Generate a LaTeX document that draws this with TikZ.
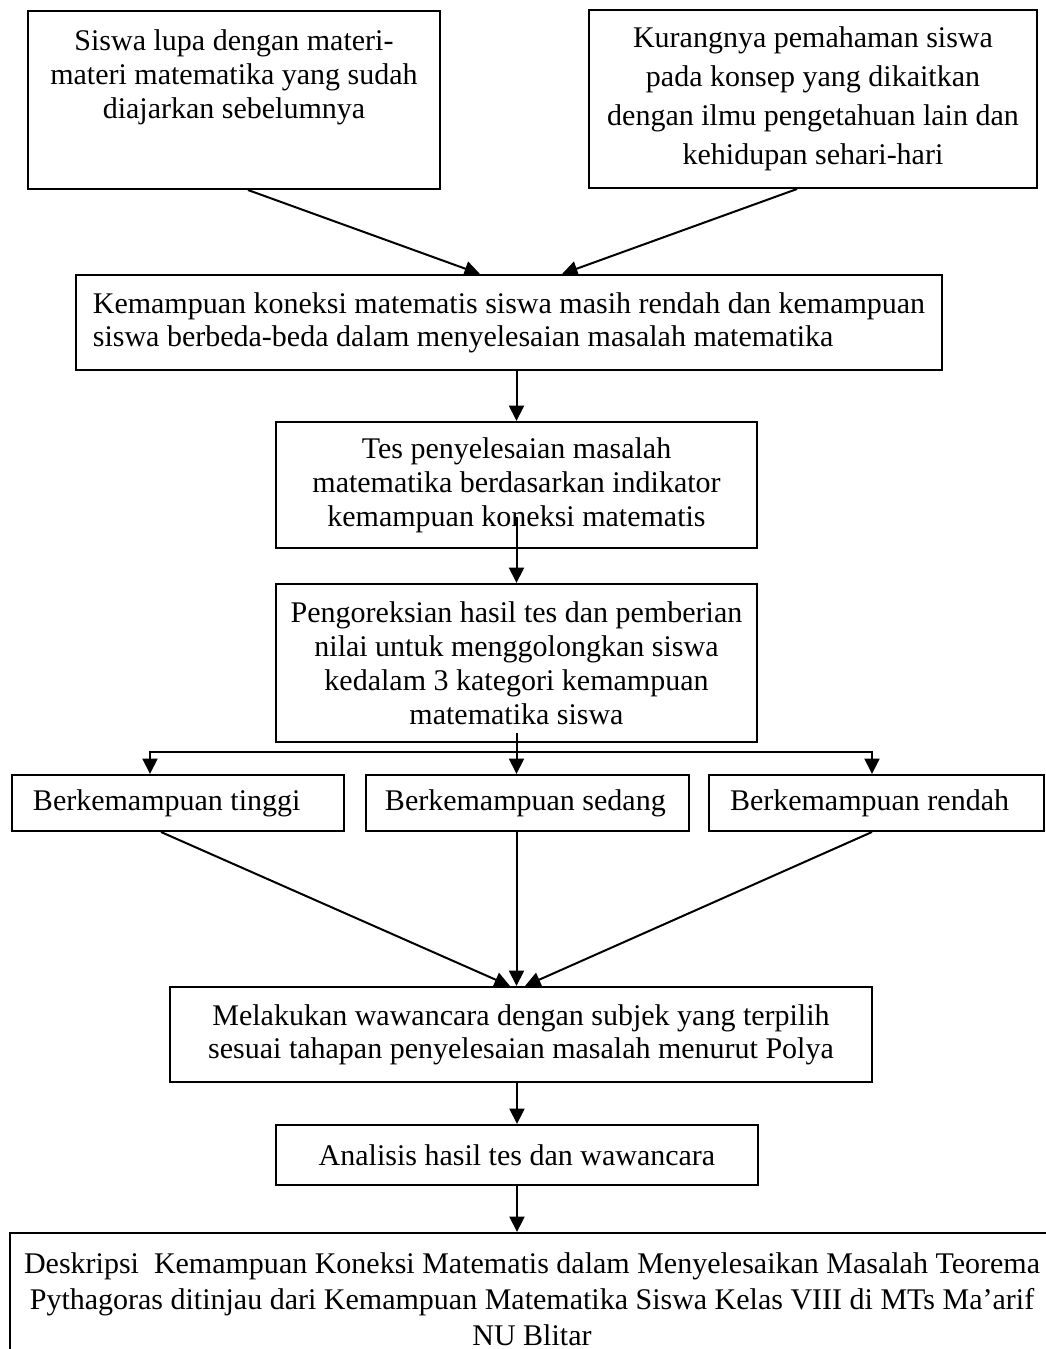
\documentclass[tikz,border=0pt]{standalone}
\usepackage{fontspec}
\setmainfont{Liberation Serif}
\usetikzlibrary{arrows.meta}

\begin{document}
\begin{tikzpicture}[x=0.4pt, y=-0.4pt,
    box/.style={draw, line width=0.8pt, inner sep=0pt, align=center, font=\fontsize{12}{13.6}\selectfont},
    arr/.style={line width=0.8pt, -{Triangle[length=6.2pt, width=6pt]}}]
    \useasboundingbox (0, 0) rectangle (1046, 1349);
    \clip (0, 0) rectangle (1046, 1349);

    \node[box, align=flush center, anchor=north, text width=150pt, inner xsep=7.4pt, text height=15.6pt, text depth=55.6pt] (lupa) at (234, 10) {Siswa lupa dengan materi-\\materi matematika yang sudah\\diajarkan sebelumnya};
    \node[box, minimum width=179.2pt, minimum height=71.2pt, font=\fontsize{12}{15.6}\selectfont] (paham) at (813, 99) {Kurangnya pemahaman siswa\\pada konsep yang dikaitkan\\dengan ilmu pengetahuan lain dan\\kehidupan sehari-hari};
    \node[box, align=left, minimum width=346.4pt, minimum height=38pt, font=\fontsize{12}{13.2}\selectfont] (koneksi) at (509, 322.5) {Kemampuan koneksi matematis siswa masih rendah dan kemampuan\\siswa berbeda-beda dalam menyelesaian masalah matematika};
    \node[box, minimum width=192.4pt, minimum height=50.4pt] (tes) at (516.5, 485) {Tes penyelesaian masalah\\matematika berdasarkan indikator\\kemampuan koneksi matematis};
    \node[box, minimum width=192.4pt, minimum height=63.2pt] (koreksi) at (516.5, 663) {Pengoreksian hasil tes dan pemberian\\nilai untuk menggolongkan siswa\\kedalam 3 kategori kemampuan\\matematika siswa};
    \node[box, align=flush left, text width=116pt, inner xsep=8.4pt, minimum height=22.4pt] (tinggi) at (178, 803) {Berkemampuan tinggi};
    \node[box, align=flush left, text width=114pt, inner xsep=7.6pt, minimum height=22.4pt] (sedang) at (527.5, 803) {Berkemampuan sedang};
    \node[box, align=flush left, text width=117.2pt, inner xsep=8.4pt, minimum height=22.4pt] (rendah) at (876.5, 803) {Berkemampuan rendah};
    \node[box, minimum width=280.8pt, minimum height=38pt, font=\fontsize{12}{13.2}\selectfont] (wawancara) at (521, 1034.5) {Melakukan wawancara dengan subjek yang terpilih\\sesuai tahapan penyelesaian masalah menurut Polya};
    \node[box, minimum width=192.8pt, minimum height=24pt] (analisis) at (517, 1155) {Analisis hasil tes dan wawancara};
    \node[box, minimum width=417.6pt, minimum height=52.8pt, font=\fontsize{12}{14.4}\selectfont] (deskripsi) at (532, 1299) {Deskripsi~ Kemampuan Koneksi Matematis dalam Menyelesaikan Masalah Teorema\\Pythagoras ditinjau dari Kemampuan Matematika Siswa Kelas VIII di MTs Ma’arif\\NU Blitar};
    \coordinate (cabang) at (516.5, 752);

    \draw[arr] ([xshift=5.6pt]lupa.south) -- ([xshift=-11.6pt]koneksi.north);
    \draw[arr] ([xshift=-6.4pt]paham.south) -- ([xshift=21.2pt]koneksi.north);
    \draw[arr] (koneksi.south -| tes.north) -- (tes.north);
    \draw[arr] ([yshift=12.8pt]tes.south) -- (koreksi.north);
    \draw[arr] ([yshift=4pt]koreksi.south) -- (koreksi.south |- sedang.north);
    \draw[arr] (cabang) -| ([xshift=-11.2pt]tinggi.north);
    \draw[arr] (cabang) -| ([xshift=-1.8pt]rendah.north);
    \draw[arr] ([xshift=-6.8pt]tinggi.south) -- ([xshift=-4.4pt]wawancara.north);
    \draw[arr] (sedang.south -| koreksi.south) -- (wawancara.north -| koreksi.south);
    \draw[arr] ([xshift=-1.8pt]rendah.south) -- ([xshift=1.6pt]wawancara.north);
    \draw[arr] (wawancara.south -| analisis.north) -- (analisis.north);
    \draw[arr] (analisis.south) -- (analisis.south |- deskripsi.north);
\end{tikzpicture}
\end{document}
